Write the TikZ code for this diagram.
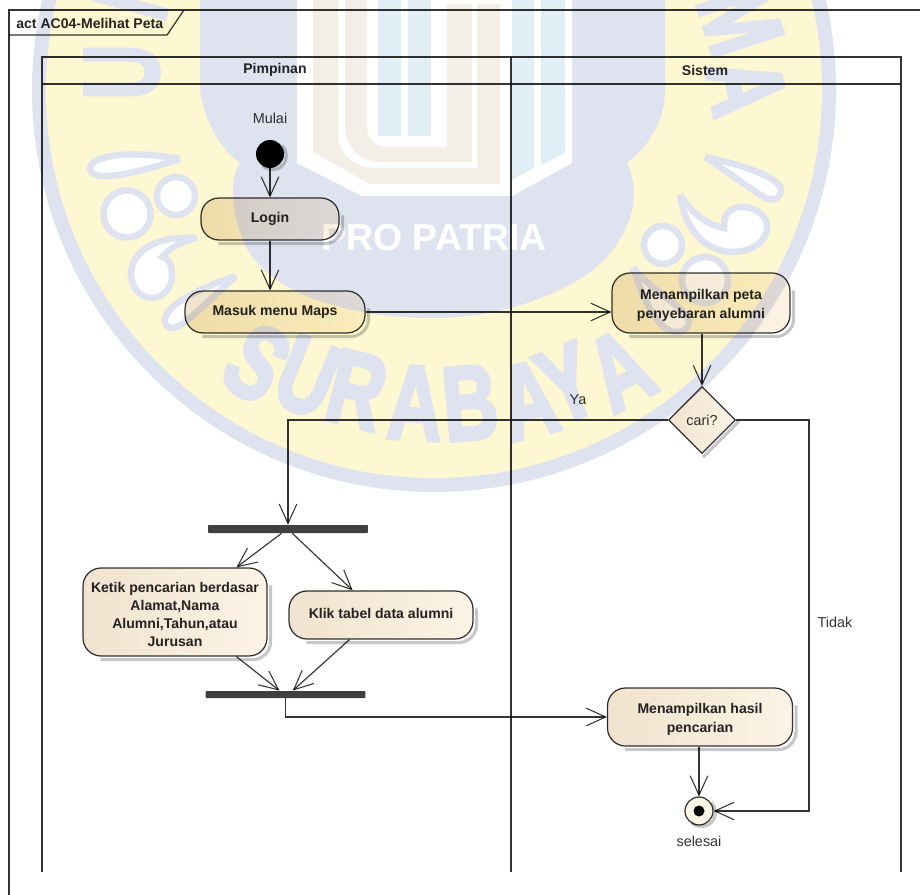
\documentclass[tikz,border=0pt]{standalone}
\usepackage{fontspec}
\setmainfont{Liberation Sans}
\newfontfamily\wmfont[BoldFeatures={FakeBold=4}]{Liberation Sans}
\usetikzlibrary{arrows.meta,shapes.geometric,shadows}

\definecolor{wmblue}{rgb}{0.875, 0.89, 0.937}
\definecolor{wmyellow}{rgb}{0.992, 0.973, 0.82}
\definecolor{wmbeige}{rgb}{0.953, 0.937, 0.902}
\definecolor{wmsky}{rgb}{0.882, 0.933, 0.965}
\definecolor{inkgray}{rgb}{0.2, 0.2, 0.2}
\definecolor{boxleft}{rgb}{0.94, 0.89, 0.81}
\definecolor{boxright}{rgb}{0.99, 0.955, 0.9}

\newcommand{\rowup}{\rule{0pt}{8.5pt}}

\tikzset{
	wmline/.style={draw=wmblue,fill=white,line width=.13cm,miter limit=20},
	wmletter/.style={inner sep=0pt,text=wmblue,font=\wmfont\bfseries\fontsize{60}{60}\selectfont},
	lane/.style={draw=inkgray,line width=.7pt},
	lbl/.style={inner sep=0pt,text=inkgray,font=\fontsize{8.2}{10}\selectfont},
	boldlbl/.style={inner sep=0pt,text=black!85,font=\bfseries\fontsize{8}{10}\selectfont},
	action/.style={draw=inkgray,line width=.7pt,left color=boxleft,right color=boxright,rounded corners=.36cm,align=center,
		inner sep=0pt,text=black!85,font=\bfseries\fontsize{8}{10.3}\selectfont},
	bar/.style={fill=black!75,rounded corners=.5pt,inner sep=0pt,minimum width=3.2cm},
	shade line/.style={draw=black!22,line width=1.8pt,rounded corners=.36cm},
	flow/.style={draw=inkgray,line width=.65pt,-{Straight Barb[length=11pt,width=10pt,line width=.6pt]}},
}

\begin{document}
\begin{tikzpicture}[x=.02cm,y=-.02cm]
	\useasboundingbox (0,0) rectangle (920,895);
	\fill[white] (0,0) rectangle (920,895);
	
	% the crest
	\begin{scope}
		\clip (0,0) rectangle (920,895);
		
		\fill[wmblue] (434,90) circle [radius=402];     % ring
		\fill[wmyellow] (434,90) circle [radius=388];
		
		% dark middle of the crest
		\fill[wmblue] (200,-5) -- (200,90) .. controls (205,125) and (222,150) .. (240,163)
		.. controls (228,180) and (232,215) .. (245,245) .. controls (270,295) and (350,318) .. (434,318)
		.. controls (500,318) and (560,295) .. (593,270) .. controls (625,245) and (645,200) .. (627,163)
		.. controls (650,145) and (665,120) .. (665,90) -- (665,-5) -- cycle;
		
		% shield
		\fill[white] (297,-5) -- (297,163) -- (362,196) -- (512,196) -- (572,163) -- (572,-5) -- cycle;
		\fill[wmbeige] (313,-5) -- (313,152) -- (370,184) -- (500,184) -- (500,4) -- (477,4) -- (477,168) -- (377,168)
		.. controls (352,168) and (338,152) .. (338,133) -- (338,-5) -- cycle;
		\fill[wmbeige] (345,-5) -- (345,127) .. controls (345,148) and (362,162) .. (380,162) -- (472,162) -- (472,4) -- (447,4)
		-- (447,147) -- (387,147) .. controls (375,147) and (367,138) .. (367,127) -- (367,-5) -- cycle;
		\fill[wmsky] (378,-5) rectangle (401,136);
		\fill[wmsky] (408,-5) rectangle (431,136);
		\fill[wmsky] (512,-5) -- (534,-5) -- (534,168) -- (512,180) -- cycle;
		\fill[wmsky] (541,-5) -- (565,-5) -- (565,153) -- (541,165) -- cycle;
		
		% drops and dots on the left
		\draw[wmline] (180,159) .. controls (130,150) and (92,155) .. (90,168) .. controls (90,180) and (115,180) .. (180,159);
		\draw[wmline] (127,214) circle [radius=23.5];
		\draw[wmline] (176,196) circle [radius=19];
		\draw[wmline] (197,238) .. controls (150,235) and (132,255) .. (131,273) .. controls (131,290) and (142,298) .. (152,298)
		.. controls (165,298) and (173,285) .. (172,273) .. controls (172,265) and (168,258) .. (162,257)
		.. controls (170,248) and (180,242) .. (197,238);
		\draw[wmline] (236,276) .. controls (200,288) and (165,305) .. (165,320) .. controls (165,330) and (175,330) .. (185,322)
		.. controls (200,310) and (215,295) .. (236,276);
		
		% drops and dots on the right
		\draw[wmline] (705,157) .. controls (745,165) and (780,178) .. (781,190) .. controls (781,200) and (770,202) .. (762,196)
		.. controls (745,185) and (725,170) .. (705,157);
		\draw[wmline] (680,195) .. controls (685,230) and (705,250) .. (730,252) .. controls (755,252) and (768,240) .. (767,225)
		.. controls (765,212) and (752,207) .. (742,207) .. controls (730,207) and (723,215) .. (724,228)
		.. controls (705,225) and (690,210) .. (680,195);
		\draw[wmline] (663,245) circle [radius=19];
		\draw[wmline] (705,280) circle [radius=23];
		\draw[wmline] (633,267) .. controls (650,290) and (675,300) .. (688,318) .. controls (692,332) and (675,336) .. (665,328)
		.. controls (650,315) and (640,290) .. (633,267);
		
		% letters round the crest
		\foreach \lx/\ly/\lr/\lt in {257/363/-33/S,307/377/-22/U,357/390/-14/R,415/403/-3/A,470/403/5/B,528/400/14/A,
			567/383/22/Y,620/370/28/A,122/72/90/U,135/-12/75/N,740/20/-72/M,746/87/-80/A}
		\node[wmletter,rotate=\lr] (wm\lx) at (\lx,\ly) {\scalebox{.72}[1]{\lt}};
		
		\node[inner sep=0pt,text=white,font=\bfseries\fontsize{21.3}{24}\selectfont] (motto) at (434,238) {PRO PATRIA};
	\end{scope}
	
	\begin{scope}[blend mode=multiply]
	% frame and its tab
	\draw[lane] (9,895) -- (9,10) -- (920,10);
	\draw[lane] (9,35) -- (167,35) -- (184,10);
	\node[boldlbl,anchor=west] (title) at (16,23) {act AC04-Melihat Peta};
	
	% swimlanes
	\draw[lane] (42,872) -- (42,57) -- (901,57) -- (901,872);
	\draw[lane] (42,84) -- (901,84);
	\draw[lane] (511,57) -- (511,872);
	\node[boldlbl] (pimpinan) at (275,70) {Pimpinan};
	\node[boldlbl] (sistem) at (705,70) {Sistem};
	
	\node[lbl] (mulai) at (270,118) {Mulai};
	\node[circle,fill=black,inner sep=0pt,minimum size=.56cm] (start) at (270,154) {};
	\node[action,minimum width=2.76cm,minimum height=.84cm] (login) at (270,219) {Login};
	\node[action,minimum width=3.6cm,minimum height=.84cm] (maps) at (275,312) {Masuk menu Maps};
	\node[action,minimum width=3.56cm,minimum height=1.2cm] (peta) at (701,303) {\rowup Menampilkan peta\\penyebaran alumni};
	\node[diamond,draw=inkgray,line width=.7pt,left color=boxleft,right color=boxright,inner sep=0pt,minimum width=1.34cm,minimum height=1.34cm,
		font=\fontsize{8.2}{10}\selectfont,text=inkgray] (cari) at (702,420) {cari?};
	\node[bar,minimum height=.16cm] (fork) at (288,529) {};
	\node[action,minimum width=3.68cm,minimum height=1.76cm] (ketik) at (175,612) {\rowup Ketik pencarian berdasar\\Alamat,Nama\\Alumni,Tahun,atau\\Jurusan};
	\node[action,minimum width=3.68cm,minimum height=.96cm] (klik) at (381,615) {\rule[-2.3pt]{0pt}{2.3pt}Klik tabel data alumni};
	\node[bar,minimum height=.14cm] (join) at (285.5,694.5) {};
	\node[action,minimum width=3.7cm,minimum height=1.16cm] (hasil) at (700,717) {\rowup Menampilkan hasil\\pencarian};
	\node[circle,draw=inkgray,line width=.7pt,fill=boxright,inner sep=0pt,minimum size=.56cm] (stop) at (699,811) {};
	\fill[black] (stop) circle [radius=5.5];
	\node[lbl] (selesai) at (699,841) {selesai};
	\node[lbl] (ya) at (578,400) {Ya};
	\node[lbl] (tidak) at (835,622) {Tidak};
	
	% shadows on the lower right of the boxes
	\foreach \boxname in {login,maps,peta,ketik,klik,hasil}
		\draw[shade line] ([shift={(3,18)}]\boxname.north east) -- ([shift={(3,3)}]\boxname.south east) -- ([shift={(18,3)}]\boxname.south west);
	\draw[shade line,rounded corners=0pt] ([shift={(3,1)}]cari.east) -- ([shift={(1,3)}]cari.south);
	\draw[shade line,rounded corners=0pt] ([shift={(2,2)}]stop.north east) arc (-45:135:14);
	\draw[shade line,rounded corners=0pt] ([shift={(2,2)}]start.north east) arc (-45:135:14);
	
	\draw[flow] (start) -- (login);
	\draw[flow] (login) -- (login.south |- maps.north);
	\draw[flow] (maps.east) -- (maps.east -| peta.west);
	\draw[flow] (peta.south -| cari.north) -- (cari.north);
	\draw[flow] (cari.west) -| (fork.north);
	\draw[flow] (fork.-146) -- (ketik.36.5);
	\draw[flow] (fork.-45) -- (klik.139);
	\draw[flow] (ketik.-36) -- (join.147);
	\draw[flow] (klik.-142) -- (join.28);
	\draw[flow] (join.south) |- (hasil.west);
	\draw[flow] (hasil.south -| stop.north) -- (stop.north);
	\draw[flow] (cari.east) -- (809,420) |- (stop.east);
	\end{scope}
	
\end{tikzpicture}
\end{document}
